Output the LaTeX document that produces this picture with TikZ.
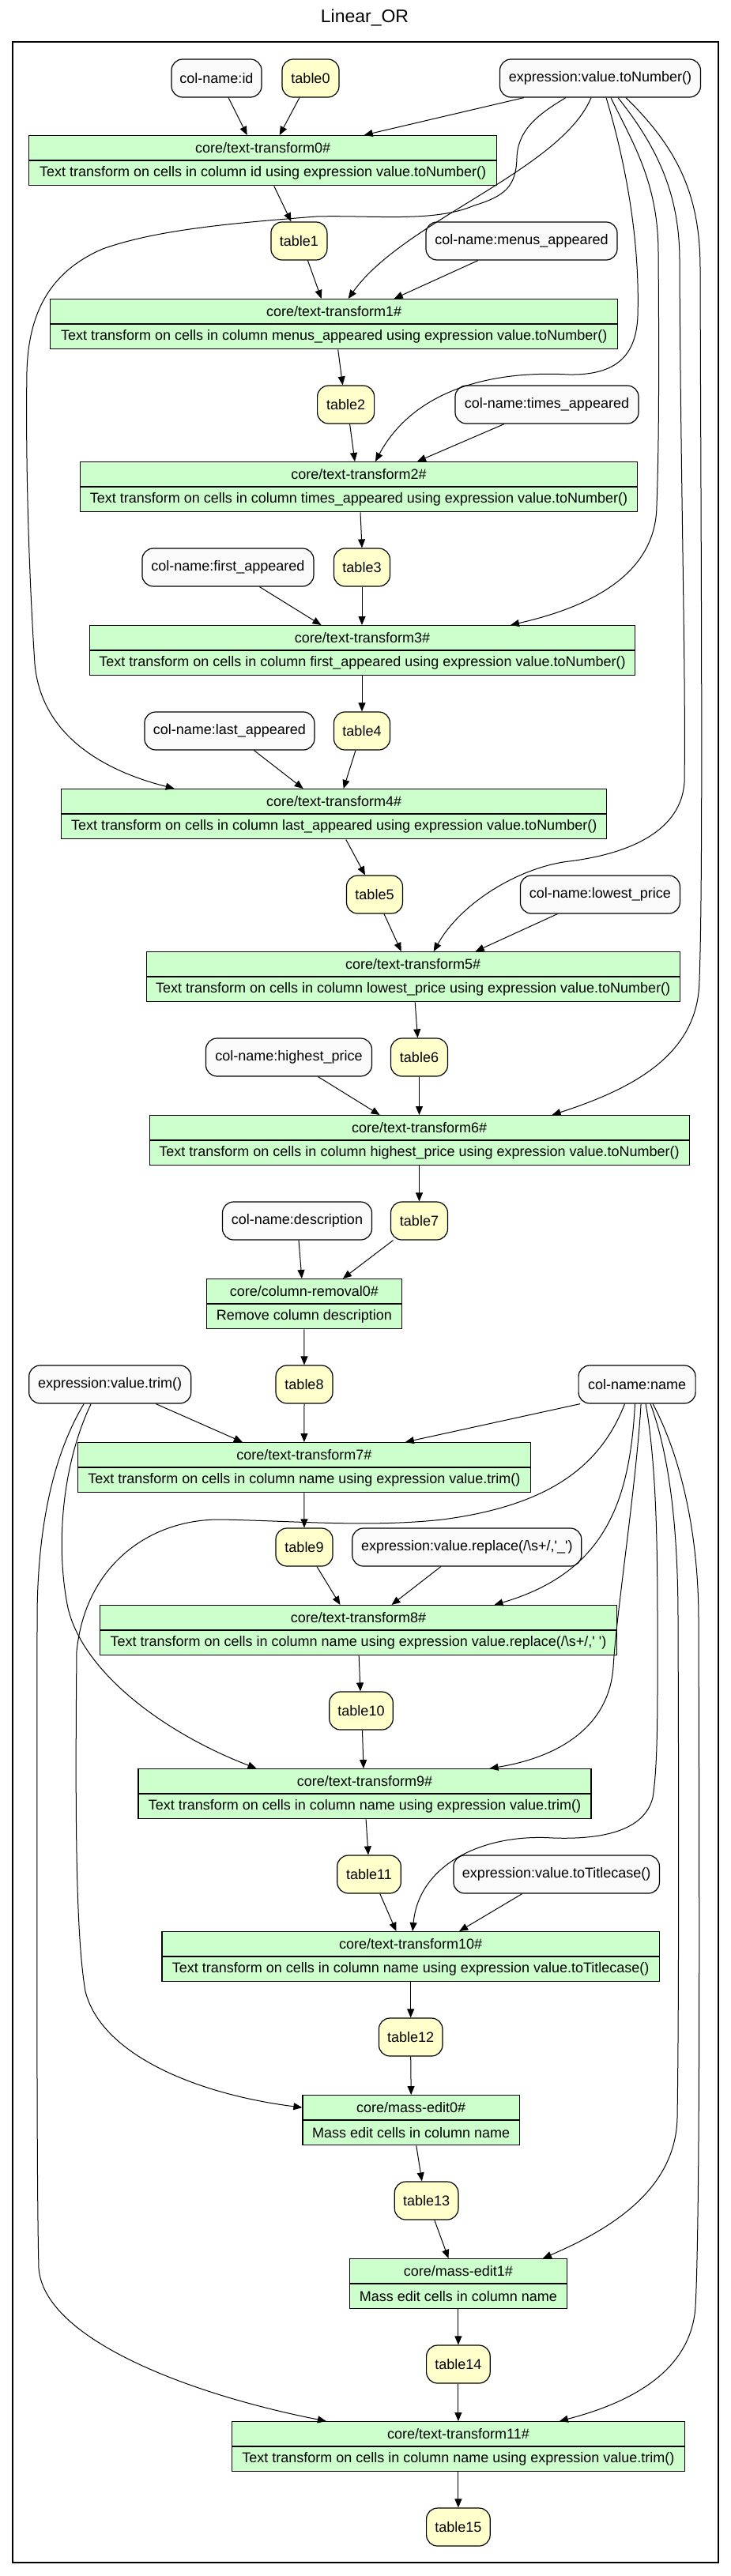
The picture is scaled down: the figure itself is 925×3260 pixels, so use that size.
\documentclass[tikz,border=0pt]{standalone}
\usepackage{fontspec}
\newfontfamily\gvfont{Liberation Sans}
\usetikzlibrary{arrows.meta}
\definecolor{gvgreen}{HTML}{CCFFCC}
\definecolor{gvyellow}{HTML}{FFFFCC}
\definecolor{gvwhite}{HTML}{FAFAFA}
\begin{document}
\begin{tikzpicture}[x=1pt,y=-1pt,
  font=\gvfont\fontsize{18pt}{21pt}\selectfont,
  tbl/.style={draw, fill=gvyellow, rounded corners=14pt, minimum height=48pt, inner sep=0pt, line width=1.2pt},
  cn/.style={draw, fill=gvwhite, rounded corners=14pt, minimum height=48pt, inner sep=0pt, line width=1.2pt},
  hdr/.style={draw, fill=gvgreen, minimum height=31pt, inner sep=0pt, line width=1.2pt, anchor=north},
  conn/.style={line width=1pt, -{Triangle[length=11pt,width=9pt]}}]
\useasboundingbox (0,0) rectangle (925,3260);
\node[font=\gvfont\fontsize{23pt}{27pt}\selectfont] (title) at (461.5,22) {Linear\_OR};
\draw[line width=2.5pt] (16,53) rectangle (909,3243);

% row nodes
\node[cn, minimum width=114pt] (colid) at (274,99) {col-name:id};
\node[tbl, minimum width=72pt] (table0) at (393,99) {table0};
\node[cn, minimum width=254pt] (exprnum) at (759.5,99) {expression:value.toNumber()};

\node[hdr, minimum width=592pt] (tt0) at (332.7,171) {core/text-transform0\#};
\node[hdr, minimum width=592pt] (tt0b) at (tt0.south) {Text transform on cells in column id using expression value.toNumber()};

\node[tbl, minimum width=71pt] (table1) at (378.4,305) {table1};
\node[cn, minimum width=242pt] (menus) at (660,305) {col-name:menus\_appeared};

\node[hdr, minimum width=718pt] (tt1) at (422.7,378) {core/text-transform1\#};
\node[hdr, minimum width=718pt] (tt1b) at (tt1.south) {Text transform on cells in column menus\_appeared using expression value.toNumber()};

\node[tbl, minimum width=72pt] (table2) at (437.6,512) {table2};
\node[cn, minimum width=232pt] (times) at (692,512) {col-name:times\_appeared};

\node[hdr, minimum width=705pt] (tt2) at (454,584) {core/text-transform2\#};
\node[hdr, minimum width=705pt] (tt2b) at (tt2.south) {Text transform on cells in column times\_appeared using expression value.toNumber()};

\node[cn, minimum width=217pt] (first) at (288.4,718) {col-name:first\_appeared};
\node[tbl, minimum width=71pt] (table3) at (458,718) {table3};

\node[hdr, minimum width=690pt] (tt3) at (458.5,791) {core/text-transform3\#};
\node[hdr, minimum width=690pt] (tt3b) at (tt3.south) {Text transform on cells in column first\_appeared using expression value.toNumber()};

\node[cn, minimum width=215pt] (last) at (290.4,925) {col-name:last\_appeared};
\node[tbl, minimum width=71pt] (table4) at (458,925) {table4};

\node[hdr, minimum width=690pt] (tt4) at (422.7,998) {core/text-transform4\#};
\node[hdr, minimum width=690pt] (tt4b) at (tt4.south) {Text transform on cells in column last\_appeared using expression value.toNumber()};

\node[tbl, minimum width=71pt] (table5) at (474,1132) {table5};
\node[cn, minimum width=202pt] (lowest) at (759.4,1132) {col-name:lowest\_price};

\node[hdr, minimum width=675pt] (tt5) at (522.7,1204) {core/text-transform5\#};
\node[hdr, minimum width=675pt] (tt5b) at (tt5.south) {Text transform on cells in column lowest\_price using expression value.toNumber()};

\node[cn, minimum width=210pt] (highest) at (365.5,1338) {col-name:highest\_price};
\node[tbl, minimum width=72pt] (table6) at (530.5,1338) {table6};

\node[hdr, minimum width=683pt] (tt6) at (530.6,1411) {core/text-transform6\#};
\node[hdr, minimum width=683pt] (tt6b) at (tt6.south) {Text transform on cells in column highest\_price using expression value.toNumber()};

\node[cn, minimum width=189pt] (desc) at (376,1545) {col-name:description};
\node[tbl, minimum width=72pt] (table7) at (530.5,1545) {table7};

\node[hdr, minimum width=247pt] (cr0) at (384.9,1618) {core/column-removal0\#};
\node[hdr, minimum width=247pt] (cr0b) at (cr0.south) {Remove column description};

\node[cn, minimum width=205pt] (trim) at (139.2,1752) {expression:value.trim()};
\node[tbl, minimum width=72pt] (table8) at (385,1752) {table8};
\node[cn, minimum width=148pt] (name) at (806.1,1752) {col-name:name};

\node[hdr, minimum width=573pt] (tt7) at (384.9,1825) {core/text-transform7\#};
\node[hdr, minimum width=573pt] (tt7b) at (tt7.south) {Text transform on cells in column name using expression value.trim()};

\node[tbl, minimum width=72pt] (table9) at (385,1958) {table9};
\node[cn, minimum width=290pt] (replace) at (590.8,1958) {expression:value.replace(/\textbackslash s+/,'\_')};

\node[hdr, minimum width=654pt] (tt8) at (453.5,2031) {core/text-transform8\#};
\node[hdr, minimum width=654pt] (tt8b) at (tt8.south) {Text transform on cells in column name using expression value.replace(/\textbackslash s+/,' ')};

\node[tbl, minimum width=80.6pt] (table10) at (457,2165) {table10};

\node[hdr, minimum width=573pt] (tt9) at (461.5,2238) {core/text-transform9\#};
\node[hdr, minimum width=573pt] (tt9b) at (tt9.south) {Text transform on cells in column name using expression value.trim()};

\node[tbl, minimum width=80.6pt] (table11) at (467,2372) {table11};
\node[cn, minimum width=260.6pt] (titlecase) at (704.2,2372) {expression:value.toTitlecase()};

\node[hdr, minimum width=629.6pt] (tt10) at (519.7,2444) {core/text-transform10\#};
\node[hdr, minimum width=629.6pt] (tt10b) at (tt10.south) {Text transform on cells in column name using expression value.toTitlecase()};

\node[tbl, minimum width=80.6pt] (table12) at (519.7,2578) {table12};

\node[hdr, minimum width=274.5pt] (me0) at (520.2,2651) {core/mass-edit0\#};
\node[hdr, minimum width=274.5pt] (me0b) at (me0.south) {Mass edit cells in column name};

\node[tbl, minimum width=80.6pt] (table13) at (539.6,2785) {table13};

\node[hdr, minimum width=274.5pt] (me1) at (579.9,2858) {core/mass-edit1\#};
\node[hdr, minimum width=274.5pt] (me1b) at (me1.south) {Mass edit cells in column name};

\node[tbl, minimum width=80.6pt] (table14) at (579.9,2992) {table14};

\node[hdr, minimum width=573pt] (tt11) at (579.9,3064) {core/text-transform11\#};
\node[hdr, minimum width=573pt] (tt11b) at (tt11.south) {Text transform on cells in column name using expression value.trim()};

\node[tbl, minimum width=80.6pt] (table15) at (579.9,3198) {table15};

% straight connectors
\draw[conn] ([xshift=15pt]colid.south) -- ([xshift=-20pt]tt0.north);
\draw[conn] ([xshift=-14pt]table0.south) -- ([xshift=21pt]tt0.north);
\draw[conn] ([xshift=-96.5pt]exprnum.south) -- ([xshift=128pt]tt0.north);
\draw[conn] ([xshift=14pt]tt0b.south) -- ([xshift=-10pt]table1.north);
\draw[conn] ([xshift=11pt]table1.south) -- ([xshift=-16pt]tt1.north);
\draw[conn] ([xshift=-55pt]menus.south) -- ([xshift=76pt]tt1.north);
\draw[conn] ([xshift=5pt]tt1b.south) -- ([xshift=-4pt]table2.north);
\draw[conn] ([xshift=5pt]table2.south) -- ([xshift=-5pt]tt2.north);
\draw[conn] ([xshift=-54pt]times.south) -- ([xshift=74pt]tt2.north);
\draw[conn] ([xshift=2pt]tt2b.south) -- (table3.north);
\draw[conn] ([xshift=40pt]first.south) -- ([xshift=-52pt]tt3.north);
\draw[conn] (table3.south) -- (tt3.north -| table3.south);
\draw[conn] (tt3b.south -| table4.north) -- (table4.north);
\draw[conn] ([xshift=31pt]last.south) -- ([xshift=-39pt]tt4.north);
\draw[conn] ([xshift=-8pt]table4.south) -- ([xshift=12pt]tt4.north);
\draw[conn] ([xshift=15pt]tt4b.south) -- ([xshift=-12pt]table5.north);
\draw[conn] ([xshift=12pt]table5.south) -- ([xshift=-15pt]tt5.north);
\draw[conn] ([xshift=-54pt]lowest.south) -- ([xshift=79pt]tt5.north);
\draw[conn] ([xshift=2.5pt]tt5b.south) -- ([xshift=-2pt]table6.north);
\draw[conn] ([xshift=37pt]highest.south) -- ([xshift=-50pt]tt6.north);
\draw[conn] (table6.south) -- (tt6.north -| table6.south);
\draw[conn] (tt6b.south -| table7.north) -- (table7.north);
\draw[conn] ([xshift=2pt]desc.south) -- ([xshift=-3pt]cr0.north);
\draw[conn] ([xshift=-33pt]table7.south) -- ([xshift=49pt]cr0.north);
\draw[conn] (cr0b.south) -- (table8.north);
\draw[conn] (table8.south) -- (tt7.north);
\draw[conn] ([xshift=58pt]trim.south) -- ([xshift=-78pt]tt7.north);
\draw[conn] ([xshift=-72pt]name.south) -- ([xshift=128pt]tt7.north);
\draw[conn] (tt7b.south) -- (table9.north);
\draw[conn] ([xshift=16pt]table9.south) -- ([xshift=-23pt]tt8.north);
\draw[conn] ([xshift=-33pt]replace.south) -- ([xshift=42pt]tt8.north);
\draw[conn] ([xshift=0.7pt]tt8b.south) -- ([xshift=-1pt]table10.north);
\draw[conn] ([xshift=1.5pt]table10.south) -- ([xshift=-1.5pt]tt9.north);
\draw[conn] ([xshift=1.6pt]tt9b.south) -- ([xshift=-1pt]table11.north);
\draw[conn] ([xshift=13.8pt]table11.south) -- ([xshift=-18.3pt]tt10.north);
\draw[conn] ([xshift=-43.5pt]titlecase.south) -- ([xshift=61.4pt]tt10.north);
\draw[conn] (tt10b.south) -- (table12.north);
\draw[conn] (table12.south) -- (me0.north);
\draw[conn] ([xshift=6.6pt]me0b.south) -- ([xshift=-5.7pt]table13.north);
\draw[conn] ([xshift=10.2pt]table13.south) -- ([xshift=-12.4pt]me1.north);
\draw[conn] (me1b.south) -- (table14.north);
\draw[conn] (table14.south) -- (tt11.north);
\draw[conn] (tt11b.south) -- (table15.north);

% curved connectors from expression:value.toNumber()
\draw[conn] ([xshift=-11.5pt]exprnum.south) .. controls (710,215) and (510,280) .. ([xshift=18pt]tt1.north);
\draw[conn] ([xshift=7.5pt]exprnum.south) .. controls (790,200) and (810,300) .. (807,400)
  .. controls (805,450) and (780,475) .. (720,474)
  .. controls (610,468) and (520,500) .. ([xshift=21pt]tt2.north);
\draw[conn] ([xshift=13.5pt]exprnum.south) .. controls (800,180) and (833,230) .. (833,320)
  .. controls (834,450) and (834,560) .. (831,640)
  .. controls (830,720) and (760,765) .. ([xshift=187.5pt]tt3.north);
\draw[conn] ([xshift=-43.5pt]exprnum.south) .. controls (680,145) and (655,165) .. (654,200)
  .. controls (653,235) and (640,248) .. (600,260)
  .. controls (550,282) and (470,272) .. (400,274)
  .. controls (300,282) and (200,290) .. (130,315)
  .. controls (60,345) and (36,400) .. (34,470)
  .. controls (32,600) and (38,750) .. (44,840)
  .. controls (52,930) and (130,975) .. ([xshift=-202pt]tt4.north);
\draw[conn] ([xshift=22.5pt]exprnum.south) .. controls (835,190) and (860,250) .. (860,330)
  .. controls (861,600) and (868,850) .. (866,990)
  .. controls (862,1050) and (800,1080) .. (720,1090)
  .. controls (660,1097) and (585,1140) .. ([xshift=26pt]tt5.north);
\draw[conn] ([xshift=32.5pt]exprnum.south) .. controls (860,190) and (886,250) .. (886,340)
  .. controls (887,700) and (890,1100) .. (885,1240)
  .. controls (884,1330) and (810,1375) .. ([xshift=168pt]tt6.north);

% curved connectors from col-name:name
\draw[conn] ([xshift=-15.6pt]name.south) .. controls (760,1855) and (696,1905) .. (560,1923)
  .. controls (468,1933) and (378,1925) .. (280,1923)
  .. controls (190,1922) and (108,1980) .. (97,2090)
  .. controls (95,2300) and (96,2450) .. (108,2520)
  .. controls (128,2600) and (248,2650) .. (me0.west);
\draw[conn] ([xshift=-2.6pt]name.south) .. controls (797,1900) and (766,1990) .. ([xshift=172pt]tt8.north);
\draw[conn] ([xshift=5pt]name.south) .. controls (805,1880) and (780,2040) .. (776,2110)
  .. controls (770,2190) and (700,2225) .. ([xshift=158pt]tt9.north);
\draw[conn] ([xshift=11pt]name.south) .. controls (830,1850) and (832,1950) .. (832,2050)
  .. controls (832,2150) and (833,2230) .. (826,2275)
  .. controls (815,2318) and (760,2328) .. (700,2326)
  .. controls (610,2320) and (530,2360) .. ([xshift=2.4pt]tt10.north);
\draw[conn] ([xshift=17pt]name.south) .. controls (850,1850) and (858,1950) .. (858,2050)
  .. controls (859,2300) and (859,2550) .. (857,2680)
  .. controls (855,2770) and (775,2820) .. ([xshift=107pt]me1.north);
\draw[conn] ([xshift=20pt]name.south) .. controls (865,1850) and (884,1950) .. (884,2050)
  .. controls (885,2400) and (886,2800) .. (880,2920)
  .. controls (874,3000) and (800,3040) .. ([xshift=128pt]tt11.north);

% curved connectors from expression:value.trim()
\draw[conn] ([xshift=-24pt]trim.south) .. controls (80,1850) and (70,1950) .. (85,2030)
  .. controls (100,2110) and (200,2190) .. ([xshift=-137pt]tt9.north);
\draw[conn] ([xshift=-33pt]trim.south) .. controls (62,1850) and (47,1950) .. (47,2050)
  .. controls (47,2400) and (46,2750) .. (49,2870)
  .. controls (55,2960) and (240,3030) .. ([xshift=-167pt]tt11.north);
\end{tikzpicture}
\end{document}
